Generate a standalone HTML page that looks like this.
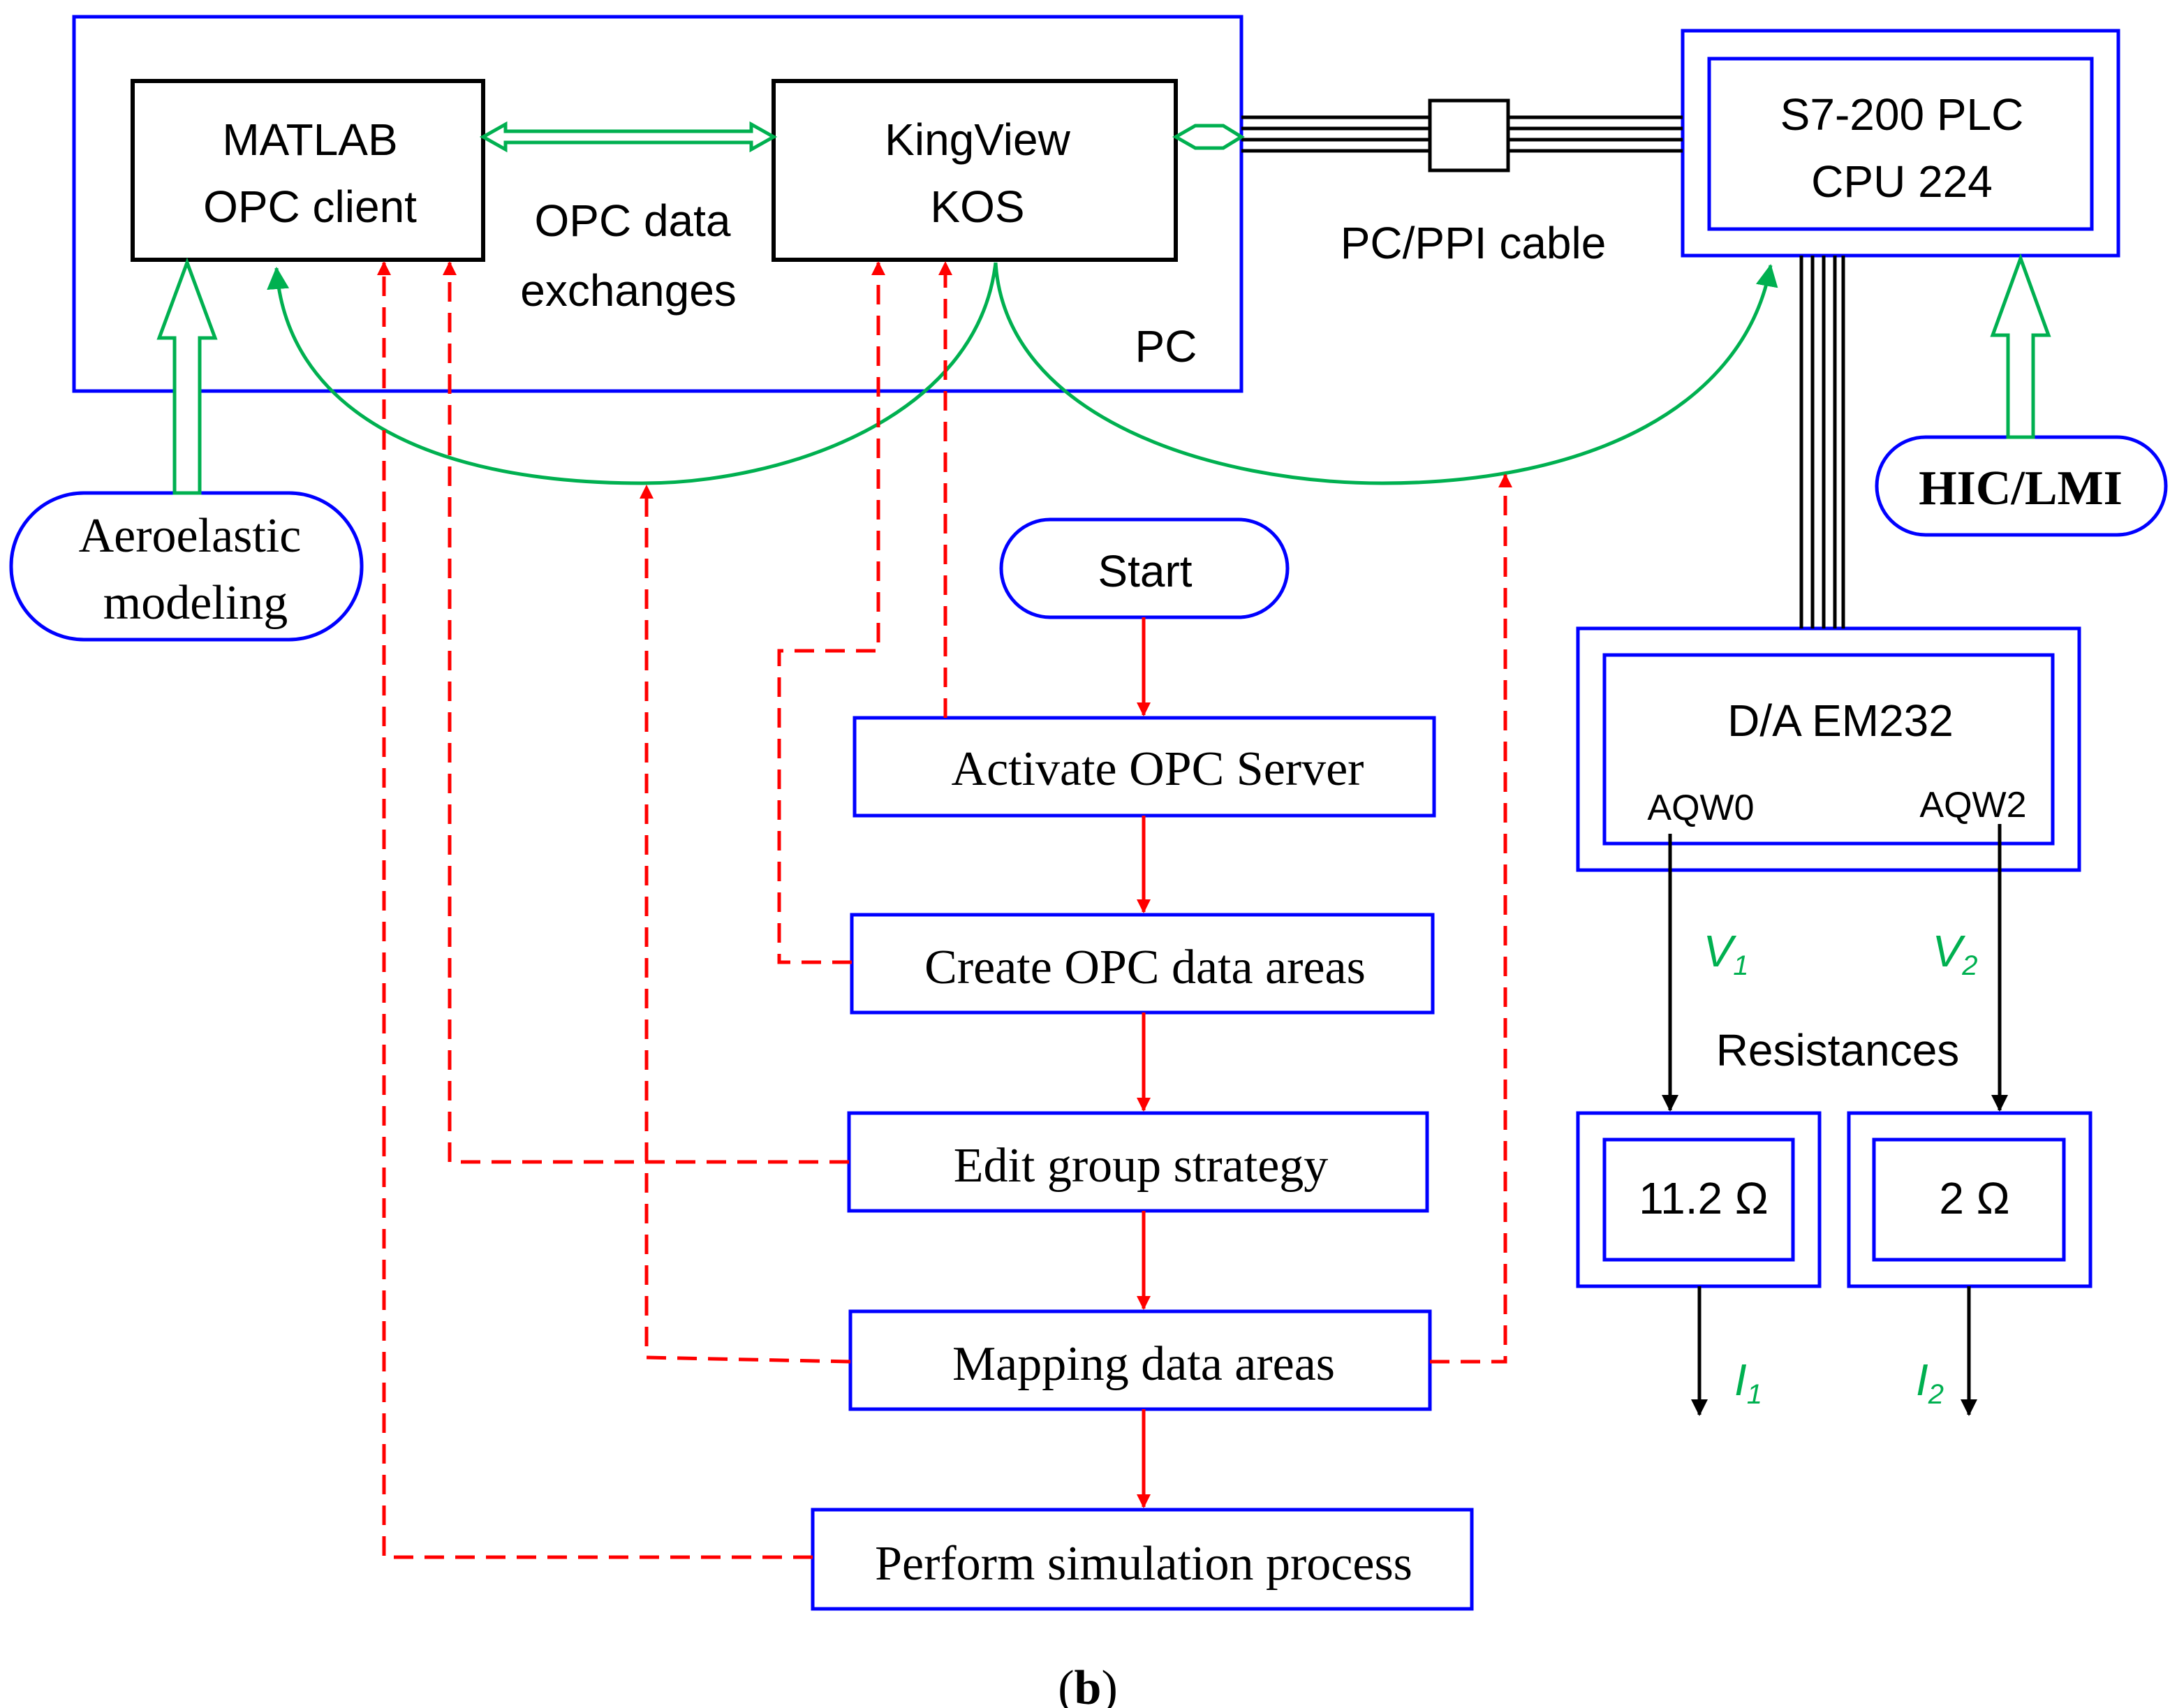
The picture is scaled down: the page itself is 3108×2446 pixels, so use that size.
<!DOCTYPE html>
<html><head><meta charset="utf-8"><style>
html,body{margin:0;padding:0;background:#fff}
svg{display:block}
.s{font-family:"Liberation Sans",sans-serif;font-size:32px;fill:#000;text-anchor:middle}
.r{font-family:"Liberation Serif",serif;font-size:35px;fill:#000;text-anchor:middle}
</style></head><body>
<svg width="3108" height="2446" viewBox="0 0 1554 1223" xmlns="http://www.w3.org/2000/svg">
<defs>
<marker id="ar" markerWidth="10" markerHeight="10" refX="9" refY="5" orient="auto" markerUnits="userSpaceOnUse"><path d="M0,0 L10,5 L0,10 Z" fill="#f00"/></marker>
<marker id="ab" markerWidth="12" markerHeight="12" refX="11" refY="6" orient="auto" markerUnits="userSpaceOnUse"><path d="M0,0 L12,6 L0,12 Z" fill="#000"/></marker>
<marker id="ag" markerWidth="16" markerHeight="16" refX="15" refY="8" orient="auto" markerUnits="userSpaceOnUse"><path d="M0,0 L16,8 L0,16 Z" fill="#00b050"/></marker>
</defs>
<g fill="none" stroke-width="2.5">
<rect x="53" y="12" width="836" height="268" stroke="#00f"/>
<rect x="95" y="58" width="251" height="128" stroke="#000" stroke-width="3"/>
<rect x="554" y="58" width="288" height="128" stroke="#000" stroke-width="3"/>
<rect x="1205" y="22" width="312" height="161" stroke="#00f"/>
<rect x="1224" y="42" width="274" height="122" stroke="#00f"/>
<rect x="1130" y="450" width="359" height="173" stroke="#00f"/>
<rect x="1149" y="469" width="321" height="135" stroke="#00f"/>
<rect x="1130" y="797" width="173" height="124" stroke="#00f"/>
<rect x="1149" y="816" width="135" height="86" stroke="#00f"/>
<rect x="1324" y="797" width="173" height="124" stroke="#00f"/>
<rect x="1342" y="816" width="136" height="86" stroke="#00f"/>
<rect x="612" y="514" width="415" height="70" stroke="#00f"/>
<rect x="610" y="655" width="416" height="70" stroke="#00f"/>
<rect x="608" y="797" width="414" height="70" stroke="#00f"/>
<rect x="609" y="939" width="415" height="70" stroke="#00f"/>
<rect x="582" y="1081" width="472" height="71" stroke="#00f"/>
<rect x="717" y="372" width="205" height="70" rx="35" stroke="#00f"/>
<rect x="8" y="353" width="251" height="105" rx="52" stroke="#00f"/>
<rect x="1344" y="313" width="207" height="70" rx="35" stroke="#00f"/>
</g>
<!-- cable -->
<g stroke="#000" stroke-width="2.5">
<line x1="889" y1="84" x2="1024" y2="84"/><line x1="889" y1="92" x2="1024" y2="92"/><line x1="889" y1="100" x2="1024" y2="100"/><line x1="889" y1="108" x2="1024" y2="108"/>
<line x1="1080" y1="84" x2="1205" y2="84"/><line x1="1080" y1="92" x2="1205" y2="92"/><line x1="1080" y1="100" x2="1205" y2="100"/><line x1="1080" y1="108" x2="1205" y2="108"/>
<line x1="1290" y1="183" x2="1290" y2="450"/><line x1="1298" y1="183" x2="1298" y2="450"/><line x1="1306" y1="183" x2="1306" y2="450"/><line x1="1314" y1="183" x2="1314" y2="450"/><line x1="1320" y1="183" x2="1320" y2="450"/>
</g>
<rect x="1024" y="72" width="56" height="50" fill="#fff" stroke="#000" stroke-width="2.5"/>
<!-- green hollow arrows -->
<g fill="#fff" stroke="#00b050" stroke-width="2.5">
<path d="M346,98 L362,89 L362,94 L538,94 L538,89 L554,98 L538,107 L538,102 L362,102 L362,107 Z"/>
<path d="M842,98 L856,90 L876,90 L889,98 L876,106 L856,106 Z"/>
<path d="M125,353 L125,242 L114,242 L134,188 L154,242 L143,242 L143,353 Z"/>
<path d="M1438,313 L1438,240 L1427,240 L1447,185 L1467,240 L1456,240 L1456,313 Z"/>
</g>
<g fill="none" stroke="#00b050" stroke-width="2.5">
<path d="M713,188 C700,300 560,346 460,346 C300,346 205,290 198,192" marker-end="url(#ag)"/>
<path d="M713,188 C720,300 870,346 990,346 C1140,346 1250,290 1268,190" marker-end="url(#ag)"/>
</g>
<!-- red solid arrows -->
<g stroke="#f00" stroke-width="2.5">
<line x1="819" y1="442" x2="819" y2="512" marker-end="url(#ar)"/>
<line x1="819" y1="584" x2="819" y2="653" marker-end="url(#ar)"/>
<line x1="819" y1="725" x2="819" y2="795" marker-end="url(#ar)"/>
<line x1="819" y1="867" x2="819" y2="937" marker-end="url(#ar)"/>
<line x1="819" y1="1009" x2="819" y2="1079" marker-end="url(#ar)"/>
</g>
<g fill="none" stroke="#f00" stroke-width="2.5" stroke-dasharray="14,8">
<path d="M677,514 L677,188" marker-end="url(#ar)"/>
<path d="M610,689 L558,689 L558,466 L629,466 L629,188" marker-end="url(#ar)"/>
<path d="M608,832 L322,832 L322,188" marker-end="url(#ar)"/>
<path d="M609,975 L463,972 L463,348" marker-end="url(#ar)"/>
<path d="M1024,975 L1078,975 L1078,340" marker-end="url(#ar)"/>
<path d="M582,1115 L275,1115 L275,188" marker-end="url(#ar)"/>
</g>
<!-- black arrows -->
<g stroke="#000" stroke-width="2.5">
<line x1="1196" y1="597" x2="1196" y2="795" marker-end="url(#ab)"/>
<line x1="1432" y1="590" x2="1432" y2="795" marker-end="url(#ab)"/>
<line x1="1217" y1="921" x2="1217" y2="1013" marker-end="url(#ab)"/>
<line x1="1410" y1="921" x2="1410" y2="1013" marker-end="url(#ab)"/>
</g>
<!-- text -->
<text class="s" x="222" y="111">MATLAB</text>
<text class="s" x="222" y="159">OPC client</text>
<text class="s" x="700" y="111">KingView</text>
<text class="s" x="700" y="159">KOS</text>
<text class="s" x="453" y="169">OPC data</text>
<text class="s" x="450" y="219">exchanges</text>
<text class="s" x="835" y="259">PC</text>
<text class="s" x="1055" y="185">PC/PPI cable</text>
<text class="s" x="1362" y="93">S7-200 PLC</text>
<text class="s" x="1362" y="141">CPU 224</text>
<text class="s" x="1318" y="527">D/A EM232</text>
<text class="s" x="1218" y="587" style="font-size:26px">AQW0</text>
<text class="s" x="1413" y="585" style="font-size:26px">AQW2</text>
<text class="s" x="1316" y="763">Resistances</text>
<text class="s" x="1220" y="869">11.2 Ω</text>
<text class="s" x="1414" y="869">2 Ω</text>
<text class="s" x="1236" y="692" style="fill:#00b050;font-style:italic">V<tspan font-size="20" dy="6">1</tspan></text>
<text class="s" x="1400" y="692" style="fill:#00b050;font-style:italic">V<tspan font-size="20" dy="6">2</tspan></text>
<text class="s" x="1252" y="999" style="fill:#00b050;font-style:italic">I<tspan font-size="20" dy="6">1</tspan></text>
<text class="s" x="1382" y="999" style="fill:#00b050;font-style:italic">I<tspan font-size="20" dy="6">2</tspan></text>
<text class="s" x="820" y="420">Start</text>
<text class="r" x="136" y="395">Aeroelastic</text>
<text class="r" x="140" y="443">modeling</text>
<text class="r" x="1447" y="361" style="font-weight:bold">HIC/LMI</text>
<text class="r" x="829" y="562">Activate OPC Server</text>
<text class="r" x="820" y="704">Create OPC data areas</text>
<text class="r" x="817" y="846">Edit group strategy</text>
<text class="r" x="819" y="988">Mapping data areas</text>
<text class="r" x="819" y="1131">Perform simulation process</text>
<text class="r" x="779" y="1220">(<tspan font-weight="bold">b</tspan>)</text>
</svg>
</body></html>
